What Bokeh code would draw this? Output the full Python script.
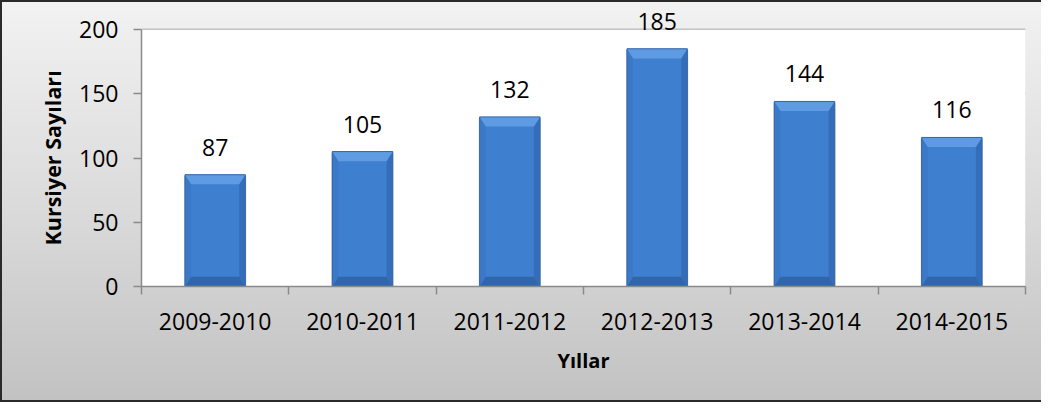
from bokeh.plotting import figure
from bokeh.models import Range1d, FixedTicker, ColumnDataSource, LabelSet, Title
from bokeh.core.properties import value
from bokeh.embed import file_html
from bokeh.resources import INLINE

# data
years = ["2009-2010", "2010-2011", "2011-2012", "2012-2013", "2013-2014", "2014-2015"]
counts = [87, 105, 132, 185, 144, 116]
y_ticks = [0, 50, 100, 150, 200]

FONT = "Open Sans"
n = len(years)
xc = [i + 0.5 for i in range(n)]
y_max = y_ticks[-1]
bar_w = 0.41
bev_x = 0.042   # bevel width in x units
bev_y = 7.5     # bevel height in y units

FH0 = 257              # pixel height of the 0..200 area
FH = 276               # frame height incl. room for the top label
y_end = y_max * FH / FH0

p = figure(frame_width=884, frame_height=FH, min_border_left=139, min_border_top=8,
           min_border_right=16, min_border_bottom=114,
           x_range=Range1d(0, n), y_range=Range1d(0, y_end),
           output_backend="svg", toolbar_location=None)
p.border_fill_color = None
p.background_fill_color = None
p.outline_line_color = None
p.styles = {"background": "linear-gradient(to bottom, #f2f2f2 0%, #d9d9d9 55%, #c2c2c2 100%)",
            "border-left": "2px solid #2a2a2a", "border-top": "2px solid #2a2a2a",
            "border-bottom": "2px solid #2a2a2a"}

# white plot area 0..200
p.quad(left=0, right=n, bottom=0, top=y_max, fill_color="white", line_color=None)

# grid
p.xgrid.grid_line_color = None
p.ygrid.grid_line_color = "#8a8a8a"
p.ygrid.grid_line_width = 1.5
p.ygrid.ticker = FixedTicker(ticks=y_ticks)

# y axis
ya = p.yaxis[0]
ya.ticker = FixedTicker(ticks=y_ticks)
ya.bounds = (0, y_max)
ya.axis_line_color = "#8a8a8a"
ya.axis_line_width = 1.5
ya.major_tick_line_color = "#8a8a8a"
ya.major_tick_line_width = 1.5
ya.major_tick_out = 8
ya.major_tick_in = 0
ya.minor_tick_line_color = None
ya.major_label_text_font = FONT
ya.major_label_text_font_size = "23px"
ya.major_label_text_color = "black"
ya.major_label_standoff = 15

# y title (offset so it is centred on the 0..200 area)
ytitle = Title(text="Kursiyer Sayıları", align="left", offset=41, standoff=20,
               text_font=FONT, text_font_size="21.5px", text_font_style="bold",
               text_color="black")
p.add_layout(ytitle, "left")

# x axis
xa = p.xaxis[0]
xa.ticker = FixedTicker(ticks=xc, minor_ticks=list(range(n + 1)))
xa.major_label_overrides = {x: lab for x, lab in zip(xc, years)}
xa.axis_line_color = "#8a8a8a"
xa.axis_line_width = 1.5
xa.major_tick_line_color = None
xa.major_tick_out = 0
xa.major_tick_in = 0
xa.minor_tick_line_color = "#8a8a8a"
xa.minor_tick_line_width = 1.5
xa.minor_tick_out = 8
xa.minor_tick_in = 0
xa.major_label_text_font = FONT
xa.major_label_text_font_size = "23px"
xa.major_label_text_color = "black"
xa.major_label_standoff = 18
xa.axis_label = "Yıllar"
xa.axis_label_text_font = FONT
xa.axis_label_text_font_size = "20px"
xa.axis_label_text_font_style = "bold"
xa.axis_label_text_color = "black"
xa.axis_label_standoff = 14

# shadow
p.vbar(x=xc, top=[c - 1 for c in counts], bottom=-1.8, width=bar_w + 0.012,
       fill_color="#8f8f8f", fill_alpha=0.45, line_color=None)
# bar bodies
p.vbar(x=xc, top=counts, width=bar_w, fill_color="#3f7fcf", line_color=None)

# bevel patches
top_xs, top_ys, l_xs, l_ys, r_xs, r_ys, b_xs, b_ys = [], [], [], [], [], [], [], []
for x, c in zip(xc, counts):
    x0, x1 = x - bar_w / 2, x + bar_w / 2
    top_xs.append([x0, x1, x1 - bev_x, x0 + bev_x]); top_ys.append([c, c, c - bev_y, c - bev_y])
    l_xs.append([x0, x0 + bev_x, x0 + bev_x, x0]); l_ys.append([c, c - bev_y, bev_y, 0])
    r_xs.append([x1, x1 - bev_x, x1 - bev_x, x1]); r_ys.append([c, c - bev_y, bev_y, 0])
    b_xs.append([x0, x0 + bev_x, x1 - bev_x, x1]); b_ys.append([0, bev_y, bev_y, 0])
p.patches(l_xs, l_ys, fill_color="#3b79c8", line_color=None)
p.patches(r_xs, r_ys, fill_color="#346eba", line_color=None)
p.patches(b_xs, b_ys, fill_color="#3066ab", line_color=None)
p.patches(top_xs, top_ys, fill_color="#5f9be3", line_color=None)
p.vbar(x=xc, top=counts, width=bar_w, fill_color=None, line_color="#3567aa", line_width=1)

# data labels
src = ColumnDataSource(dict(x=xc, y=counts, t=[str(c) for c in counts]))
labels = LabelSet(x="x", y="y", text="t", source=src, text_align="center",
                  text_baseline="alphabetic", y_offset=19, text_font=value(FONT),
                  text_font_size="23px", text_color="black")
p.add_layout(labels)

open("out.html", "w").write(file_html(p, INLINE))
